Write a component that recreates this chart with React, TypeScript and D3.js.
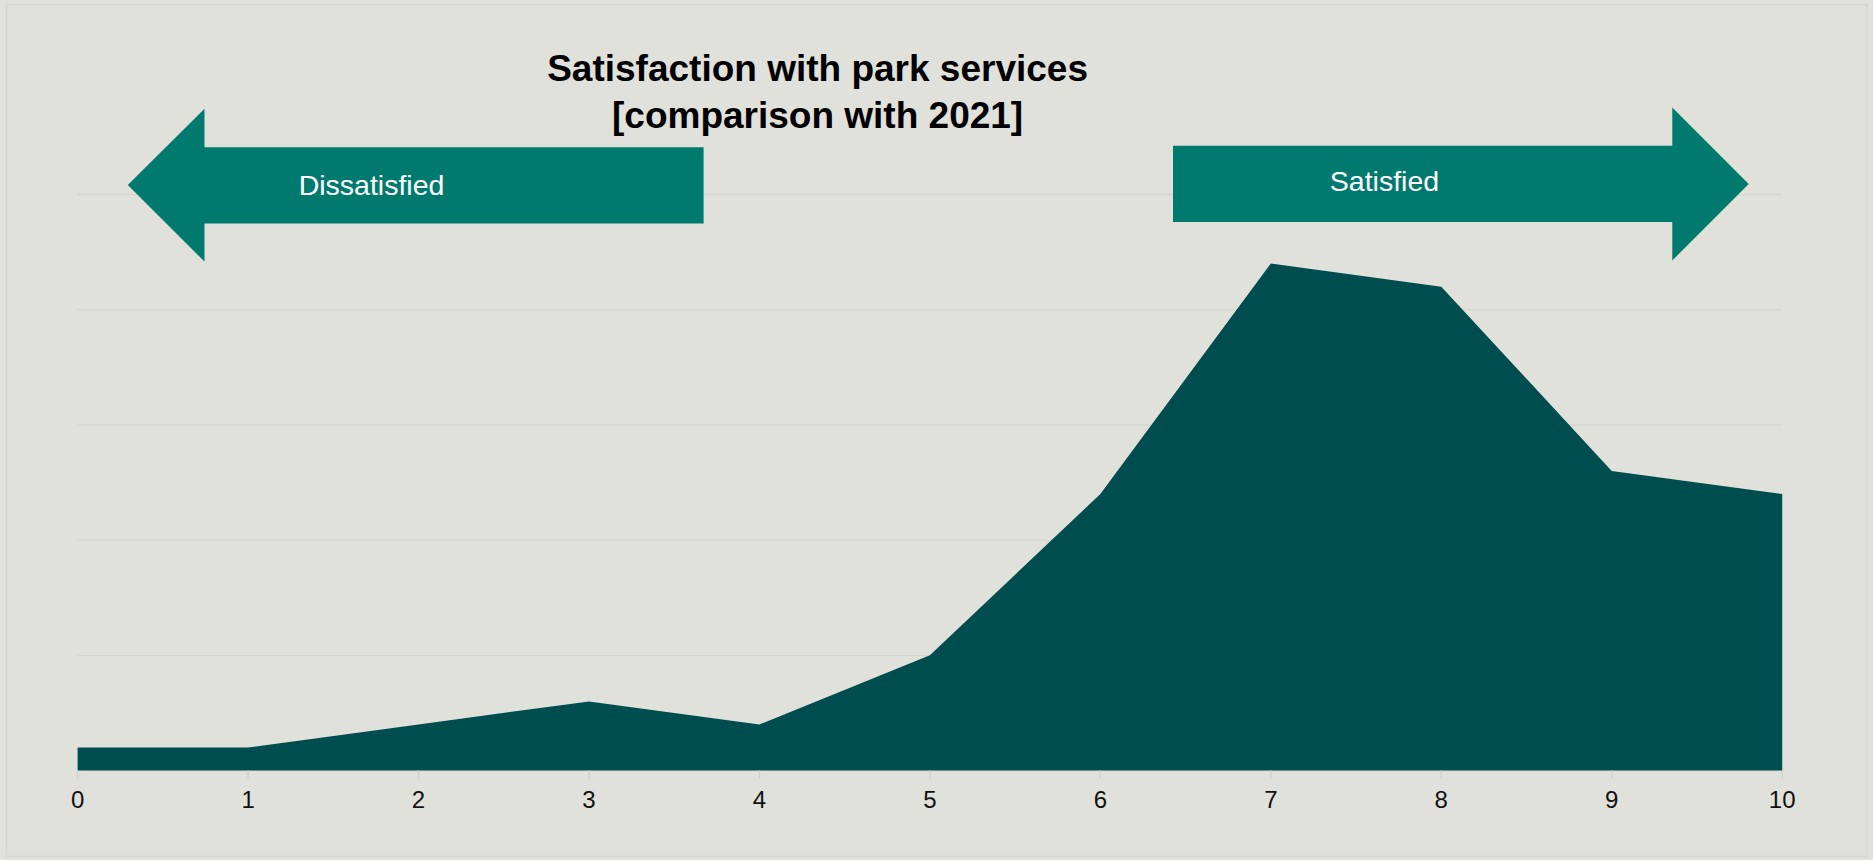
import React from "react";
import * as d3 from "d3";

const scores = [0, 1, 2, 3, 4, 5, 6, 7, 8, 9, 10];
const shares = [1, 1, 2, 3, 2, 5, 12, 22, 21, 13, 12];
const gridValues = [0, 5, 10, 15, 20, 25];
const titleLines = ["Satisfaction with park services", "[comparison with 2021]"];
const leftLabel = "Dissatisfied";
const rightLabel = "Satisfied";

const W = 1873;
const H = 860;
const FONT = "'Liberation Sans', Arial, Helvetica, sans-serif";

export default function App() {
  const x = d3.scaleLinear().domain([0, 10]).range([77.6, 1782.2]);
  const y = d3.scaleLinear().domain([0, 25]).range([770.5, 194.5]);

  const area = d3
    .area<number>()
    .x((_, i) => x(scores[i]))
    .y0(y(0))
    .y1((d) => y(d));

  const leftArrow = [
    [127.8, 185],
    [204.5, 108.7],
    [204.5, 147.2],
    [703.6, 147.2],
    [703.6, 223.4],
    [204.5, 223.4],
    [204.5, 261.6],
  ];
  const rightArrow = [
    [1173, 145.7],
    [1672.3, 145.7],
    [1672.3, 107.5],
    [1748.7, 184],
    [1672.3, 260.4],
    [1672.3, 222],
    [1173, 222],
  ];
  const poly = (pts: number[][]) => pts.map((p) => p.join(",")).join(" ");

  return (
    <svg
      width={W}
      height={H}
      style={{ position: "absolute", left: 0, top: 0, display: "block" }}
      fontFamily={FONT}
    >
      <rect x={0} y={0} width={W} height={H} fill="#E0E1DA" />
      <rect x={6.5} y={4.5} width={1860.5} height={852} fill="none" stroke="#D5D6CF" strokeWidth={1.5} />

      {gridValues.map((g) => (
        <line key={g} x1={x(0)} x2={x(10)} y1={y(g)} y2={y(g)} stroke="#D5D6CF" strokeWidth={1.3} />
      ))}

      <path d={area(shares) || ""} fill="#004D4F" />

      {scores.map((s) => (
        <g key={s} transform={`translate(${x(s)},0)`}>
          <line y1={y(0)} y2={y(0) + 8} stroke="#D0D1CA" strokeWidth={1.3} />
          <text y={y(0) + 37} textAnchor="middle" fontSize={24} fill="#111">
            {s}
          </text>
        </g>
      ))}

      <polygon points={poly(leftArrow)} fill="#007A6E" />
      <polygon points={poly(rightArrow)} fill="#007A6E" />
      <text x={371.5} y={185} dy="0.35em" textAnchor="middle" fontSize={28.5} fill="#FFFFFF">
        {leftLabel}
      </text>
      <text x={1384.5} y={181.5} dy="0.35em" textAnchor="middle" fontSize={28.5} fill="#FFFFFF">
        {rightLabel}
      </text>

      {titleLines.map((t, i) => (
        <text
          key={i}
          x={817.6}
          y={81 + i * 47}
          textAnchor="middle"
          fontSize={37}
          fontWeight="bold"
          fill="#000"
        >
          {t}
        </text>
      ))}
    </svg>
  );
}
